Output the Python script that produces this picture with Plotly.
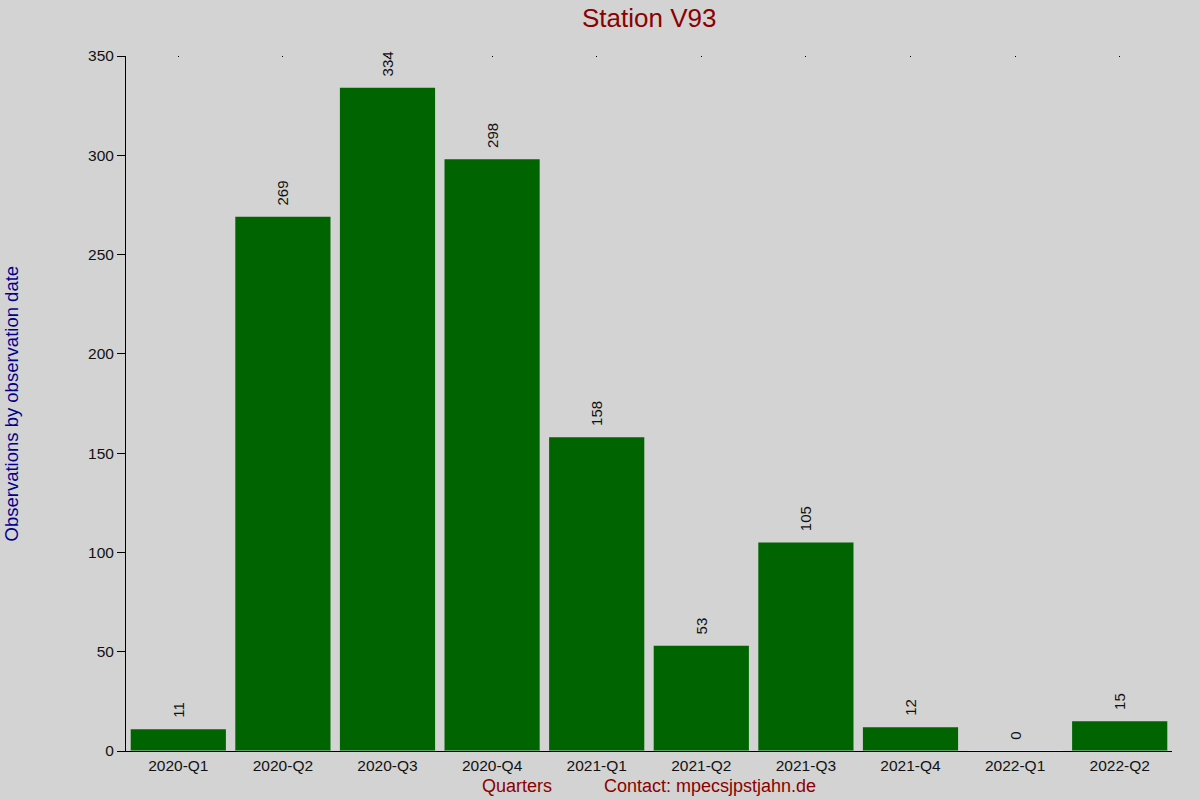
import plotly.graph_objects as go

quarters = ["2020-Q1", "2020-Q2", "2020-Q3", "2020-Q4", "2021-Q1",
            "2021-Q2", "2021-Q3", "2021-Q4", "2022-Q1", "2022-Q2"]
counts = [11, 269, 334, 298, 158, 53, 105, 12, 0, 15]
y_ticks = [0, 50, 100, 150, 200, 250, 300, 350]

station = "Station V93"
contact = "Contact: mpecsjpstjahn.de"

fig = go.Figure()
fig.add_trace(go.Bar(x=quarters, y=counts, marker_color="#006400", marker_line_width=0,
                     texttemplate="\u00a0\u00a0%{y}", textposition="outside", textangle=-90,
                     textfont=dict(size=15, color="#111111"), cliponaxis=False))
# tiny marks along the top edge, one per quarter
fig.add_trace(go.Bar(x=quarters, y=[0] * len(quarters), xaxis="x2", showlegend=False,
                     hoverinfo="skip", marker_color="rgba(0,0,0,0)"))

fig.update_layout(
    width=1200, height=800,
    paper_bgcolor="#D3D3D3", plot_bgcolor="#D3D3D3",
    margin=dict(l=126, r=28, t=56, b=49),
    font=dict(family="Liberation Sans, Arial, sans-serif", size=15.5, color="#111111"),
    bargap=0.09, showlegend=False,
    title=dict(text=station, x=0.541, xanchor="center", y=0.978, yanchor="middle",
               font=dict(size=26, color="#8B0000")),
    xaxis=dict(type="category", range=[-0.5, 9.5], showline=True, linecolor="black",
               linewidth=1, ticks="", showgrid=False, tickfont=dict(size=15.5)),
    xaxis2=dict(type="category", range=[-0.5, 9.5], overlaying="x", side="top",
                showticklabels=False, ticks="inside", ticklen=1, tickcolor="black",
                showline=False, showgrid=False),
    yaxis=dict(range=[0, 350], tickvals=y_ticks, showline=True, linecolor="black",
               linewidth=1, ticks="outside", ticklen=8, tickcolor="black",
               showgrid=False, zeroline=False, tickfont=dict(size=15.5)),
    annotations=[
        dict(text="Observations by observation date", xref="paper", yref="paper",
             x=-0.109, y=0.5, xanchor="center", yanchor="middle", textangle=-90,
             showarrow=False, font=dict(size=18.5, color="#00008B")),
        dict(text="Quarters", xref="paper", yref="paper", x=0.374, y=-0.05,
             xanchor="center", yanchor="middle", showarrow=False,
             font=dict(size=18, color="#8B0000")),
        dict(text=contact, xref="paper", yref="paper", x=0.558, y=-0.05,
             xanchor="center", yanchor="middle", showarrow=False,
             font=dict(size=18, color="#8B0000")),
    ],
)

fig.write_html("out.html", config={"displayModeBar": False},
               post_script="document.body.style.margin='0';")
